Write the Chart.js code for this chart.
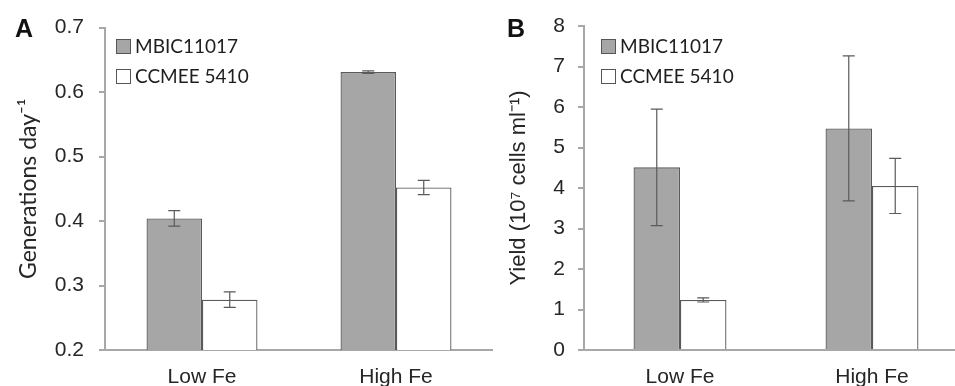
<!DOCTYPE html>
<html>
<head>
<meta charset="utf-8">
<script src="https://cdn.jsdelivr.net/npm/chart.js@4/dist/chart.umd.min.js"></script>
<style>
  html, body { margin: 0; padding: 0; background: #fff; overflow: hidden; width: 955px; height: 386px; }
  .wrap { position: absolute; top: 0; height: 386px; }
  #wrapA { left: 0; width: 493px; }
  #wrapB { left: 480px; width: 488px; }
  .legend { position: absolute; font-family: Lato, "Open Sans", sans-serif; font-size: 19px; color: #1e1e1e; line-height: 30px; }
  .legend .item { display: flex; align-items: center; white-space: nowrap; }
  .legend .box { display: inline-block; width: 13px; height: 13px; border: 1px solid #555; margin-right: 4px; box-sizing: content-box; }
</style>
</head>
<body>
<div class="wrap" id="wrapA"><canvas id="chartA" width="493" height="386"></canvas></div>
<div class="wrap" id="wrapB"><canvas id="chartB" width="488" height="386"></canvas></div>
<div class="legend" id="legendA" style="left:116px; top:31px;"></div>
<div class="legend" id="legendB" style="left:601px; top:31px;"></div>
<script>
// ---- data ----
const categories = ['Low Fe', 'High Fe'];
const seriesNames = ['MBIC11017', 'CCMEE 5410'];
const seriesFill = ['#a6a6a6', '#ffffff'];

const growthMBIC = [0.404, 0.631];
const growthMBICErr = [0.012, 0.002];
const growthCCMEE = [0.278, 0.452];
const growthCCMEEErr = [0.012, 0.011];
const growthTicks = [0.2, 0.3, 0.4, 0.5, 0.6, 0.7];

const yieldMBIC = [4.51, 5.47];
const yieldMBICErr = [1.44, 1.79];
const yieldCCMEE = [1.235, 4.05];
const yieldCCMEEErr = [0.05, 0.68];
const yieldTicks = [0, 1, 2, 3, 4, 5, 6, 7, 8];

const axisColor = '#a8a8a8';
const textColor = '#262626';

const errorBarPlugin = {
  id: 'errorBars',
  afterDatasetsDraw(chart) {
    const ctx = chart.ctx;
    const yScale = chart.scales.y;
    ctx.save();
    ctx.strokeStyle = '#5a5a5a';
    ctx.lineWidth = 1.2;
    chart.data.datasets.forEach((ds, i) => {
      const meta = chart.getDatasetMeta(i);
      meta.data.forEach((el, j) => {
        const v = ds.data[j], e = ds.errors[j];
        const yTop = yScale.getPixelForValue(v + e);
        const yBot = yScale.getPixelForValue(v - e);
        const x = el.x;
        const cap = 6;
        ctx.beginPath();
        ctx.moveTo(x, yTop); ctx.lineTo(x, yBot);
        ctx.moveTo(x - cap, yTop); ctx.lineTo(x + cap, yTop);
        ctx.moveTo(x - cap, yBot); ctx.lineTo(x + cap, yBot);
        ctx.stroke();
      });
    });
    ctx.restore();
  }
};

const panelLetterPlugin = {
  id: 'panelLetter',
  afterDraw(chart, args, opts) {
    const ctx = chart.ctx;
    ctx.save();
    ctx.font = 'bold 25px "Liberation Sans", Arial, sans-serif';
    ctx.fillStyle = '#111';
    ctx.textBaseline = 'alphabetic';
    ctx.textAlign = 'left';
    ctx.fillText(opts.text, opts.x, opts.y);
    ctx.restore();
  }
};

function makeChart(canvasId, cfg) {
  return new Chart(document.getElementById(canvasId), {
    type: 'bar',
    data: {
      labels: categories,
      datasets: cfg.values.map((vals, i) => ({
        label: seriesNames[i],
        data: vals,
        errors: cfg.errors[i],
        backgroundColor: seriesFill[i],
        borderColor: '#5a5a5a',
        borderWidth: 1.3,
        borderSkipped: 'start',
        categoryPercentage: cfg.catPct,
        barPercentage: 1.0
      }))
    },
    options: {
      responsive: false,
      animation: false,
      events: [],
      layout: { padding: { top: 26, left: 0, right: 0, bottom: 0 } },
      plugins: {
        legend: { display: false },
        tooltip: { enabled: false },
        panelLetter: { text: cfg.letter, x: cfg.letterX, y: 37 }
      },
      scales: {
        x: {
          grid: { display: false, drawTicks: false },
          border: { display: true, color: axisColor, width: 2 },
          ticks: {
            padding: 15,
            color: textColor,
            font: { family: '"Liberation Sans", Arial, sans-serif', size: 21 }
          },
          afterFit(s) { s.height = 36; }
        },
        y: {
          min: cfg.ticks[0],
          max: cfg.ticks[cfg.ticks.length - 1],
          afterBuildTicks(s) { s.ticks = cfg.ticks.map(v => ({ value: v })); },
          grid: { drawOnChartArea: false, drawTicks: true, tickLength: 6, color: axisColor, lineWidth: 2 },
          border: { display: true, color: axisColor, width: 2 },
          ticks: {
            padding: cfg.tickPad,
            color: textColor,
            font: { family: '"Liberation Sans", Arial, sans-serif', size: 21 },
            callback: cfg.fmt
          },
          title: {
            display: true,
            text: cfg.title,
            color: textColor,
            font: cfg.titleFont,
            padding: { top: cfg.titlePadTop, bottom: 0 }
          },
          afterFit(s) { s.width = cfg.axisWidth; }
        }
      }
    },
    plugins: [errorBarPlugin, panelLetterPlugin]
  });
}

makeChart('chartA', {
  values: [growthMBIC, growthCCMEE],
  errors: [growthMBICErr, growthCCMEEErr],
  ticks: growthTicks,
  fmt: v => Number(v).toFixed(1),
  catPct: 0.572,
  tickPad: 15,
  axisWidth: 105,
  title: 'Generations day\u207B\u00B9',
  titleFont: { family: 'Lato, "Open Sans", sans-serif', size: 23 },
  titlePadTop: 15,
  letter: 'A',
  letterX: 15
});

makeChart('chartB', {
  values: [yieldMBIC, yieldCCMEE],
  errors: [yieldMBICErr, yieldCCMEEErr],
  ticks: yieldTicks,
  fmt: v => String(v),
  catPct: 0.484,
  tickPad: 13,
  axisWidth: 104,
  title: 'Yield (10\u2077 cells ml\u207B\u00B9)',
  titleFont: { family: '"Liberation Sans", Arial, sans-serif', size: 22 },
  titlePadTop: 26,
  letter: 'B',
  letterX: 27
});

function buildLegend(id) {
  const el = document.getElementById(id);
  seriesNames.forEach((name, i) => {
    const item = document.createElement('div');
    item.className = 'item';
    const box = document.createElement('span');
    box.className = 'box';
    box.style.background = seriesFill[i];
    const txt = document.createElement('span');
    txt.textContent = name;
    item.appendChild(box); item.appendChild(txt);
    el.appendChild(item);
  });
}
buildLegend('legendA');
buildLegend('legendB');
</script>
</body>
</html>
